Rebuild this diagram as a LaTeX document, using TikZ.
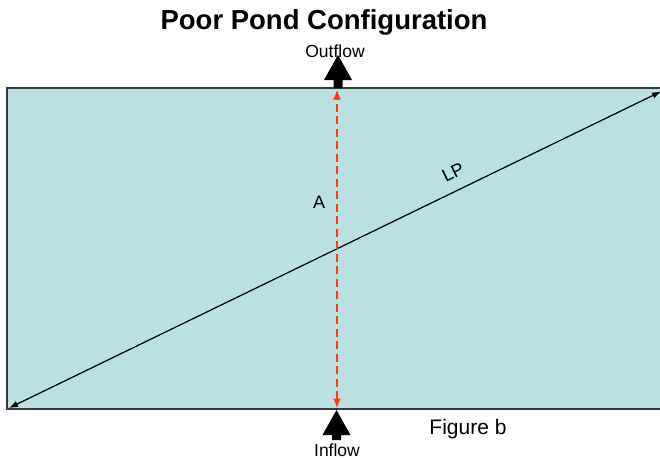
\documentclass[tikz,border=0pt]{standalone}
\usepackage{fontspec}
\setmainfont{Liberation Sans}
\usetikzlibrary{arrows.meta,positioning,calc}
\definecolor{PondBlue}{HTML}{BAE0E3}
\definecolor{EdgeGray}{HTML}{3A3A3A}
\definecolor{FlowRed}{HTML}{FF3A0A}
\newcommand{\fs}[1]{\fontsize{#1}{#1}\selectfont}

\begin{document}
\begin{tikzpicture}[x=1pt,y=-1pt,>=Latex,
  pond/.style={fill=PondBlue,draw=EdgeGray,line width=1.2pt},
  lbl/.style={inner sep=0pt,font=\fs{17.5}},
  lpline/.style={black,line width=1.2pt,{Latex[length=9pt,width=6.5pt]}-{Latex[length=9pt,width=6.5pt]}},
  flowline/.style={FlowRed,line width=1.9pt,dash pattern=on 8pt off 4.5pt,{Latex[length=10pt,width=8pt]}-{Latex[length=10pt,width=8pt]}}]
 \clip (0,0) rectangle (660,459);
 \fill[white] (0,0) rectangle (660,459);
 % pond
 \draw[pond] (7,88) rectangle (666,409);
 \node[inner sep=0pt,font=\bfseries\fs{27.5}] (title) at (324,22) {Poor Pond Configuration};
 % in/out block arrows
 \foreach \tx/\ty/\by/\ey in {338/55/80/88,336.5/410/435/440}{
   \fill[black] (\tx,\ty) -- (\tx+14,\by) -- (\tx+4.5,\by) -- (\tx+4.5,\ey)
     -- (\tx-4.5,\ey) -- (\tx-4.5,\by) -- (\tx-14,\by) -- cycle;}
 \node[lbl] (outflow) at (335,51) {Outflow};
 \node[lbl] (inflow) at (337,450) {Inflow};
 % path lines
 \coordinate (lpstart) at (9,408);
 \coordinate (lpend) at (661,91.5);
 \coordinate (ain) at (337,408.5);
 \coordinate (aout) at (337,89.5);
 \draw[lpline] (lpstart) -- (lpend);
 \draw[flowline] (ain) -- (aout);
 \node[lbl,font=\fs{18}] (alab) at (319,202) {A};
 \node[lbl,font=\fs{18},rotate=26] (lplab) at (453,172) {LP};
 \node[lbl,font=\fs{21}] (figlab) at (468,429) {Figure b};
\end{tikzpicture}
\end{document}
